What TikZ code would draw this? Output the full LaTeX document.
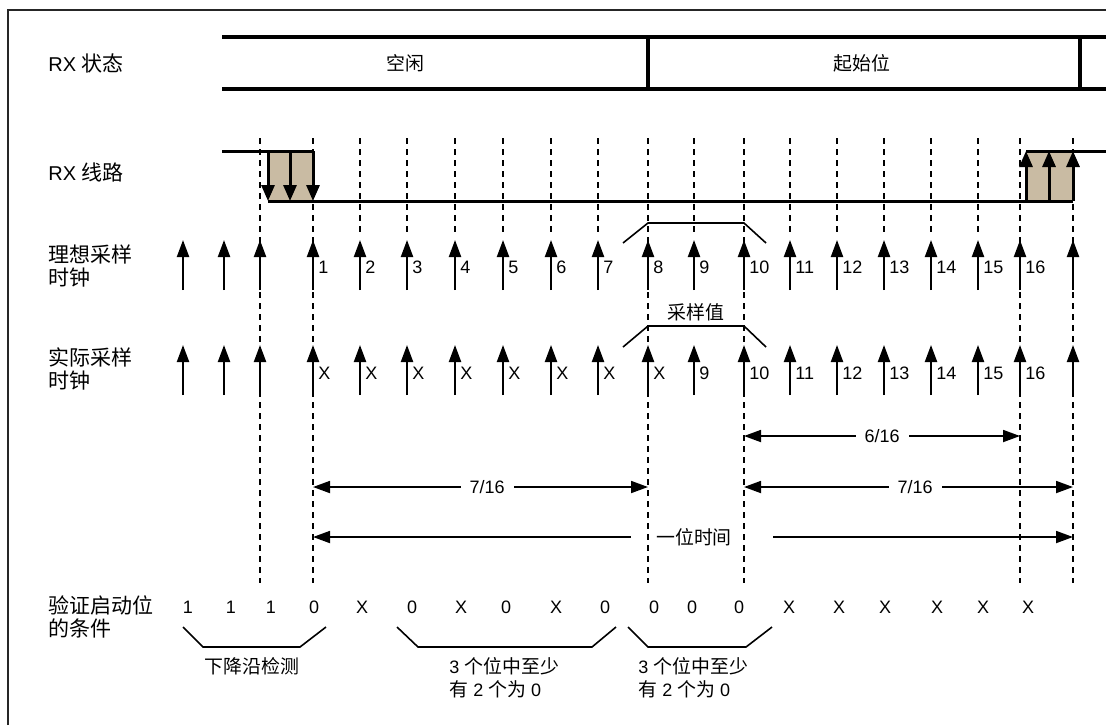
\documentclass[tikz,border=0pt]{standalone}
\usepackage{fontspec}
\setmainfont{Liberation Sans}
\newfontfamily\cjk[Scale=1.05]{Noto Sans CJK SC}
\usetikzlibrary{arrows.meta,calc,positioning}
\definecolor{edgefill}{RGB}{201,187,163}

\begin{document}
\begin{tikzpicture}[x=0.5pt, y=-0.5pt,
  every node/.style={font=\fontsize{9}{11.5}\selectfont, inner sep=1pt},
  statebar/.style={line width=1.6pt},
  rxline/.style={line width=1.5pt},
  edgearrow/.style={line width=1.5pt, -{Triangle[length=8pt,width=6.5pt]}},
  clk/.style={line width=1.1pt, -{Triangle[length=8.5pt,width=6pt]}},
  guide/.style={line width=0.7pt, dash pattern=on 3pt off 2.5pt},
  dimline/.style={line width=0.9pt},
  brace/.style={line width=0.8pt},
  rowlabel/.style={anchor=west, align=left, font=\fontsize{10}{11.3}\selectfont}]
  \useasboundingbox (0,0) rectangle (1106,725);
  \draw[line width=0.8pt, black!85] (8,725) -- (8,10) -- (1106,10);

  \foreach \x [count=\i] in {183,224,260,313,360,407,455,503,551,598,648,694,744,790,837,884,931,978,1020,1073}
    \coordinate (t\i) at (\x,0);

  \node[rowlabel] (lstate) at (46,63) {RX {\cjk 状态}};
  \node[rowlabel] (lline) at (46,172) {RX {\cjk 线路}};
  \node[rowlabel] (lideal) at (46,266) {{\cjk 理想采样}\\{\cjk 时钟}};
  \node[rowlabel] (lreal) at (46,369) {{\cjk 实际采样}\\{\cjk 时钟}};
  \node[rowlabel] (lcheck) at (46,617) {{\cjk 验证启动位}\\{\cjk 的条件}};

  \draw[statebar] (222,37) -- (1106,37);
  \draw[statebar] (222,89) -- (1106,89);
  \draw[statebar] (t11 |- 0,37) -- (t11 |- 0,89);
  \draw[statebar] (1080,37) -- (1080,89);
  \node (sidle) at (405,63) {\cjk 空闲};
  \node (sstart) at (862,63) {\cjk 起始位};

  \foreach \i in {3,4,11,13,19,20}
    \draw[guide] (t\i |- 0,138) -- (t\i |- 0,583);
  \foreach \i in {5,6,7,8,9,10,12,14,15,16,17,18}
    \draw[guide] (t\i |- 0,138) -- (t\i |- 0,236);

  \fill[edgefill] (268,151) rectangle (t4 |- 0,201);
  \fill[edgefill] (1026,151) rectangle (t20 |- 0,201);
  \draw[rxline] (222,151) -- (t4 |- 0,151);
  \draw[rxline] (268,201) -- (t20 |- 0,201);
  \draw[rxline] (1026,151) -- (1106,151);
  \foreach \x in {268,290,313}
    \draw[edgearrow] (\x,151) -- (\x,201);
  \foreach \x in {1026,1049,1073}
    \draw[edgearrow] (\x,201) -- (\x,151);

  \foreach \i in {1,...,20} {
    \draw[clk] (t\i |- 0,290) -- (t\i |- 0,240);
    \draw[clk] (t\i |- 0,395) -- (t\i |- 0,345);
  }
  \foreach \i in {4,...,19} {
    \pgfmathtruncatemacro\n{\i-3}
    \node[anchor=west] (ideal\n) at ($(t\i)+(3,267)$) {\n};
  }
  \foreach \i/\v in {4/X,5/X,6/X,7/X,8/X,9/X,10/X,11/X,12/9,13/10,14/11,15/12,16/13,17/14,18/15,19/16}
    \node[anchor=west] (real\i) at ($(t\i)+(3,373)$) {\v};

  \draw[brace] (623,243) -- (t11 |- 0,223) -- (t13 |- 0,223) -- (766,243);
  \draw[brace] (623,347) -- (t11 |- 0,326) -- (t13 |- 0,326) -- (766,347);
  \node (lsample) at (696,312) {\cjk 采样值};

  \draw[dimline, {Triangle[length=8.5pt,width=6pt]}-{Triangle[length=8.5pt,width=6pt]}]
    (t13 |- 0,436) -- node[fill=white, inner xsep=4.5pt] (d616) {6/16} (t19 |- 0,436);
  \draw[dimline, {Triangle[length=8.5pt,width=6pt]}-{Triangle[length=8.5pt,width=6pt]}]
    (t4 |- 0,487) -- node[pos=0.52, fill=white, inner xsep=4.5pt] (d716a) {7/16} (t11 |- 0,487);
  \draw[dimline, {Triangle[length=8.5pt,width=6pt]}-{Triangle[length=8.5pt,width=6pt]}]
    (t13 |- 0,487) -- node[pos=0.52, fill=white, inner xsep=4.5pt] (d716b) {7/16} (t20 |- 0,487);
  \coordinate (gapl) at (631,537);
  \coordinate (gapr) at (773,537);
  \node (lbit) at (694,537) {\cjk 一位时间};
  \draw[dimline, {Triangle[length=8.5pt,width=6pt]}-] (t4 |- 0,537) -- (gapl);
  \draw[dimline, -{Triangle[length=8.5pt,width=6pt]}] (gapr) -- (t20 |- 0,537);

  \foreach \x/\v [count=\k] in {188/1,231/1,271/1,314/0,362/X,412/0,461/X,506/0,556/X,605/0,654/0,692/0,739/0,789/X,839/X,885/X,937/X,983/X,1028/X}
    \node (v\k) at (\x,607) {\v};

  \draw[brace] (183,627) -- (203,647) -- (300,647) -- (326,627);
  \draw[brace] (397,627) -- (418,647) -- (592,647) -- (616,627);
  \draw[brace] (628,627) -- (648,647) -- (746,647) -- (772,627);
  \node (ledge) at (252,666) {\cjk 下降沿检测};
  \node[anchor=north west, align=left] (lmaj1) at (447,655) {3 {\cjk 个位中至少}\\{\cjk 有} 2 {\cjk 个为} 0};
  \node[anchor=north west, align=left] (lmaj2) at (636,655) {3 {\cjk 个位中至少}\\{\cjk 有} 2 {\cjk 个为} 0};
\end{tikzpicture}
\end{document}
